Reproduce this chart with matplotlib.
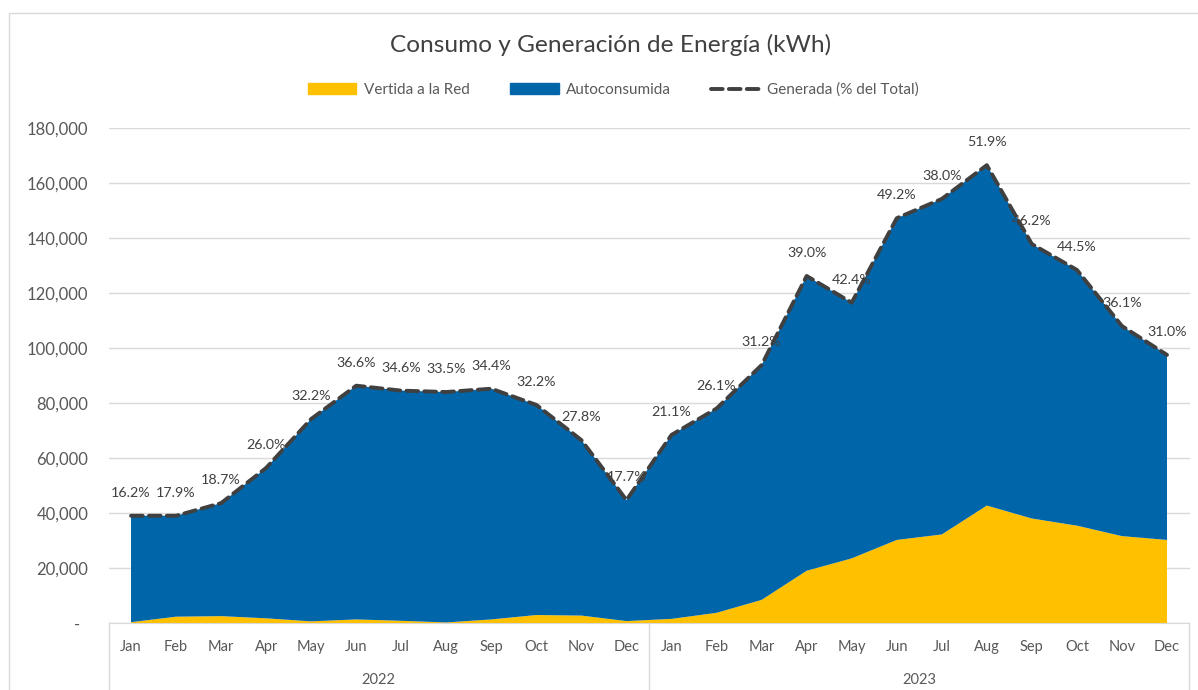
import matplotlib.pyplot as plt
from matplotlib.patches import Patch
from matplotlib.lines import Line2D
from matplotlib.ticker import FuncFormatter

plt.rcParams['font.family'] = ['Lato', 'DejaVu Sans']

# data (kWh)
months = ['Jan', 'Feb', 'Mar', 'Apr', 'May', 'Jun', 'Jul', 'Aug', 'Sep', 'Oct', 'Nov', 'Dec'] * 2
years = ['2022', '2023']
generada = [39000, 39000, 43600, 56400, 74200, 86300, 84500, 84000, 85200, 79300, 66500, 44700,
            68400, 78000, 93800, 126200, 116500, 147200, 154200, 166500, 137800, 128400, 108000, 97500]
vertida = [300, 2300, 2500, 1700, 600, 1300, 800, 200, 1300, 2900, 2700, 700,
           1500, 3700, 8400, 19000, 23500, 30200, 32200, 42700, 38000, 35400, 31600, 30200]
pct_total = [16.2, 17.9, 18.7, 26.0, 32.2, 36.6, 34.6, 33.5, 34.4, 32.2, 27.8, 17.7,
             21.1, 26.1, 31.2, 39.0, 42.4, 49.2, 38.0, 51.9, 46.2, 44.5, 36.1, 31.0]

autoconsumida = [g - v for g, v in zip(generada, vertida)]
x = list(range(len(months)))

YELLOW = '#FFC000'
BLUE = '#0065A9'
DARK = '#404040'
GRAY = '#595959'
GRID = '#D9D9D9'

fig = plt.figure(figsize=(11.98, 6.9), dpi=100)
ax = fig.add_axes([108.5 / 1198, 1 - 623 / 690, 1081 / 1198, 495 / 690])

ax.stackplot(x, vertida, autoconsumida, colors=[YELLOW, BLUE], linewidth=0, zorder=2)
ax.plot(x, generada, color=DARK, lw=2.8, dashes=(3, 1.6), dash_capstyle='round', zorder=3)

for xi, g, p in zip(x, generada, pct_total):
    ax.annotate(f'{p:.1f}%', (xi, g), xytext=(0, 16.5), textcoords='offset points',
                ha='center', va='center', fontsize=10.3, color=DARK, zorder=4)

ax.set_xlim(-0.5, len(months) - 0.5)
ax.set_ylim(0, 180000)
ax.set_yticks(range(0, 180001, 20000))
ax.yaxis.set_major_formatter(FuncFormatter(lambda v, _: '-  ' if v == 0 else f'{int(v):,}'))
ax.tick_params(axis='y', length=0, pad=14.5, labelsize=12, labelcolor=GRAY)
ax.set_xticks([])
ax.grid(axis='y', color=GRID, lw=1, zorder=0)
for s in ['top', 'right', 'left']:
    ax.spines[s].set_visible(False)
ax.spines['bottom'].set_color(GRID)

# two level category axis
trans = ax.get_xaxis_transform()
for xi, m in zip(x, months):
    ax.text(xi, -24 / 495, m, transform=trans, ha='center', va='center', fontsize=10.5, color=GRAY)
for i, yr in enumerate(years):
    ax.text(i * 12 + 5.5, -57 / 495, yr, transform=trans, ha='center', va='center',
            fontsize=10.5, color=GRAY)
for xb in [-0.5, 11.5, 23.5]:
    ax.add_line(Line2D([xb, xb], [0, -70 / 495], transform=trans, color=GRID, lw=1, clip_on=False))

fig.text(0.51, 1 - 45 / 690, 'Consumo y Generación de Energía (kWh)', ha='center', va='center',
         fontsize=17.6, color=DARK)

handles = [Patch(color=YELLOW, label='Vertida a la Red'),
           Patch(color=BLUE, label='Autoconsumida'),
           Line2D([], [], color=DARK, lw=2.8, dashes=(3, 1.6), dash_capstyle='round',
                  label='Generada (% del Total)')]
leg = fig.legend(handles=handles, loc='center', bbox_to_anchor=(0.512, 1 - 90 / 690), ncol=3,
                 frameon=False, fontsize=11, handlelength=3.2, handleheight=0.75,
                 columnspacing=2.6, handletextpad=0.5)
for t in leg.get_texts():
    t.set_color(GRAY)

# chart border
fig.add_artist(plt.Rectangle((8.5 / 1198, -0.01), 1.1, 1 - 13 / 690 + 0.01, transform=fig.transFigure,
                             fill=False, edgecolor=GRID, lw=1))

fig.savefig('out.png', dpi=100)
